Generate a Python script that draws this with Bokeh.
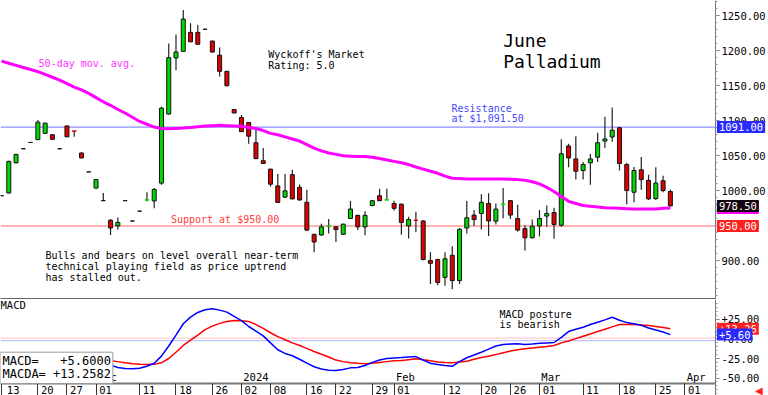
import numpy as np
import pandas as pd
from bokeh.plotting import figure
from bokeh.models import (ColumnDataSource, Range1d, FixedTicker, Label,
                          NumeralTickFormatter, PrintfTickFormatter)
from bokeh.layouts import column
from bokeh.embed import file_html
from bokeh.resources import INLINE

# ---------------- data ----------------
first_day = "2023-11-13"
last_axis_day = "2024-04-01"
holidays = ["2023-11-23", "2023-12-25", "2024-01-01", "2024-01-15", "2024-02-19", "2024-03-29"]

opens = [993, 997, 1040, 1060, 1069, 1073, 1082, 1080, 1060, 1092.6,
         1085.5, 1054, 1027, 1004, 986, 958, 950, 986, 957, 971,
         986.8, 985.6, 1011, 1109.5, 1189.6, 1199, 1226, 1226, 1230.5, 1213.7,
         1193.5, 1170.5, 1116, 1104.6, 1097.5, 1068.6, 1043, 1031, 1007, 991,
         1023, 1005, 983.6, 938, 937, 949.4, 948.6, 938, 960.5, 965,
         948.6, 979, 993, 986.8, 982, 981, 950, 958.2, 957, 900.6,
         902, 876.5, 908, 872, 947, 965.4, 967.7, 982, 956.8, 980.8,
         986, 960.5, 946, 933, 950, 964, 969, 951, 1064, 1045.5,
         1029, 1040, 1048, 1071, 1076.8, 1090, 1037.5, 998, 1030, 1015,
         989, 1014.4, 999]
highs = [993, 1043, 1053, 1060, 1069, 1101, 1097, 1081, 1060, 1093,
         1085.5, 1055, 1027, 1017, 997, 960, 962, 986, 957, 971,
         998, 1004, 1120, 1210, 1223, 1258, 1239, 1236.7, 1230.5, 1214,
         1204.6, 1171, 1116, 1108, 1098, 1089, 1061, 1031, 1024, 1024,
         1030, 1009, 1001.4, 938, 953, 960, 949, 953, 985.6, 966,
         971, 987, 1003, 1003, 986, 982, 963, 970, 958, 912.5,
         903, 912.5, 921, 947, 985.6, 972.6, 995, 996.5, 982, 1004,
         987, 980, 951, 959, 972.6, 979, 976, 1073.5, 1067, 1078,
         1041, 1053, 1083, 1105.6, 1119, 1091, 1040, 1034, 1048.4, 1023,
         1033.6, 1021.6, 1002]
lows = [993, 996, 1039, 1060, 1069, 1073, 1082, 1073, 1060, 1077,
        1077, 1046, 1027, 1003, 986, 937, 945, 986, 957, 971,
        985, 975, 1008.7, 1109, 1172, 1199, 1212, 1209, 1230.5, 1197,
        1163, 1149, 1111, 1084, 1067, 1045, 1039, 1006, 983, 990,
        988, 986, 943, 912.5, 936, 939, 927, 937, 960, 944,
        936.6, 978, 985, 986.8, 972, 937.5, 932, 941, 901, 867,
        865.4, 864.5, 859.7, 867, 939, 950, 945, 935.6, 952, 961,
        960, 942, 915, 932, 935, 948.6, 931.7, 948.6, 1033.6, 1016,
        1016, 1008.6, 1041, 1061, 1070, 1029, 981, 983.6, 1001.4, 987,
        987, 998, 978]
closes = [993, 1042, 1052, 1060, 1069, 1098, 1096.5, 1073.5, 1060, 1077,
          1085, 1047, 1027, 1016, 986, 947, 955, 986, 957, 971,
          987.2, 1002, 1118, 1190, 1198, 1245, 1212.6, 1209, 1230.5, 1198,
          1170.5, 1150, 1111, 1084.4, 1078, 1046, 1039, 1009.5, 983.5, 1000,
          988.5, 987, 944, 927, 948.6, 949.8, 944.7, 952.5, 974, 948.6,
          965, 986, 986, 987.2, 975, 955, 959, 957.8, 902, 896.6,
          869.3, 903, 872, 945, 961.5, 959, 983.6, 957, 974, 981.2,
          965.4, 944, 933, 949.6, 960.5, 967.7, 952, 1053, 1047, 1028,
          1037.5, 1045.5, 1068.6, 1074, 1086.5, 1039, 1000.4, 1029, 1016, 988.5,
          1011, 1000.4, 978.5]
ma50 = [1185, 1182, 1179, 1176, 1173, 1170, 1166, 1162, 1158, 1153,
        1148, 1144, 1139, 1133, 1127, 1122, 1116, 1111, 1105, 1099,
        1095, 1091, 1089, 1088.5, 1089, 1089.5, 1090.5, 1091.5, 1092.5, 1093,
        1093.5, 1093, 1092.5, 1092, 1090.5, 1089, 1086, 1082, 1080, 1077,
        1074, 1071, 1066, 1061, 1057, 1054, 1052, 1050, 1049.5, 1049,
        1049, 1048, 1046, 1044, 1042, 1040, 1037.5, 1034, 1031, 1028,
        1025, 1021, 1018, 1017.5, 1017, 1017, 1017, 1017, 1017, 1017,
        1016.5, 1016, 1015, 1013, 1010, 1005, 999, 992, 985, 982,
        979, 978, 977, 976, 975.5, 975, 974.5, 974, 974, 974,
        974, 975, 975.5]
macd = [-31, -30, -29, -28, -27, -26, -25, -23, -21, -19.8,
        -19, -20, -22, -24, -28.5, -33.5, -36.5, -37.8, -38.2, -37.5,
        -35, -31, -22, -9, 5, 19.5, 28, 34, 37.5, 38.7,
        37, 34.4, 29, 23.5, 16, 10, 4, -5, -13.8, -18.5,
        -21.5, -26, -31, -35.5, -38.5, -40, -40.5, -39, -37, -36.5,
        -34, -30, -27, -25, -24.3, -23.8, -23, -22.5, -27, -31,
        -32.7, -34, -35, -29, -24, -20.5, -17, -13, -9, -7,
        -6.5, -6.2, -7.2, -6.5, -5.5, -5, -4.5, 2, 9.5, 12.5,
        15, 18.5, 21.5, 24.5, 27.9, 24, 21, 19.5, 17.5, 14,
        11.5, 9, 5.6]
macd_avg = [-24, -24.5, -25, -25, -25, -24.5, -24, -23.5, -23, -23,
            -23, -23.5, -24.5, -26, -27, -28, -29, -30.5, -31.8, -32.5,
            -32.8, -32.5, -30.5, -25, -17, -8.3, -1.5, 5, 12, 16.5,
            20, 22.5, 23.7, 23.5, 22.5, 18.5, 13.5, 8, 3, -1,
            -5, -8.3, -12, -16, -19.5, -23, -27, -29, -30.5, -31.2,
            -31.8, -31, -30, -29, -28, -27.6, -26.5, -25.4, -26.5, -28,
            -29.5, -30.2, -30.5, -29.5, -28.5, -26, -23.8, -22, -20, -17.5,
            -15.5, -13.8, -12.5, -11.5, -10.5, -9.5, -8.3, -5, -2.5, 0.5,
            3.5, 6.5, 9.5, 12.5, 15.5, 18.5, 18.7, 18.6, 18, 17.3,
            16, 14.7, 13.26]

tick_dates = ["2023-11-13", "2023-11-20", "2023-11-27", "2023-12-01", "2023-12-11", "2023-12-18",
              "2023-12-26", "2024-01-02", "2024-01-08", "2024-01-16", "2024-01-22", "2024-01-29",
              "2024-02-01", "2024-02-12", "2024-02-20", "2024-02-26", "2024-03-01", "2024-03-11",
              "2024-03-18", "2024-03-25", "2024-04-01"]
month_dates = ["2023-12-01", "2024-01-02", "2024-02-01", "2024-03-01", "2024-04-01"]
month_texts = ["Dec", "2024", "Feb", "Mar", "Apr"]
price_ticks = [900, 950, 1000, 1050, 1100, 1150, 1200, 1250]
macd_ticks = [-50, -25, 0, 25]

resistance = 1091.0
support = 950.0
last_price = 978.50
last_ma = 975.5
macd_last = 5.60
macd_avg_last = 13.2582

# ---------------- calendar ----------------
days = pd.bdate_range(first_day, last_axis_day)
days = days[~days.isin(pd.to_datetime(holidays))]
day_index = {d.strftime("%Y-%m-%d"): i for i, d in enumerate(days)}
x = list(range(len(opens)))

GREEN = "#00d800"
RED = "#e00000"
fills, lines_c = [], []
for o, c in zip(opens, closes):
    if o == c:
        col = "#111111"
    elif c > o:
        col = GREEN
    else:
        col = RED
    fills.append(col)
    lines_c.append("#111111" if abs(c - o) >= 1 or o == c else col)

src = ColumnDataSource(dict(
    x=x, open=opens, high=highs, low=lows, close=closes,
    top=[max(o, c) for o, c in zip(opens, closes)],
    bottom=[min(o, c) for o, c in zip(opens, closes)],
    fill=fills, line=lines_c, ma=ma50, macd=macd, macd_avg=macd_avg))

MONO = "DejaVu Sans Mono"
X0, X1 = -0.14, 105.5          # visible trading-day window (frame spans full width)
AXIS_X = 98.2                   # where the price scale sits
xr = Range1d(X0, X1)

def style_yaxis(ax, ticks, minor, formatter):
    ax.ticker = FixedTicker(ticks=ticks, minor_ticks=minor)
    ax.formatter = formatter
    ax.fixed_location = AXIS_X
    ax.major_label_text_font = MONO
    ax.major_label_text_font_size = "10.5px"
    ax.major_label_text_color = "black"
    ax.axis_line_color = "#777777"
    ax.major_tick_line_color = "#777777"
    ax.minor_tick_line_color = "#999999"
    ax.major_tick_out = 4
    ax.major_tick_in = 0
    ax.minor_tick_out = 2
    ax.minor_tick_in = 0
    ax.major_label_standoff = 2

def lab(fig, xx, yy, text, color="black", size="10px", font=MONO, align="left", baseline="middle"):
    fig.add_layout(Label(x=xx, y=yy, text=text, text_color=color, text_font_size=size,
                         text_font=font, text_align=align, text_baseline=baseline))

def badge(fig, yy, text, bg):
    fig.add_layout(Label(x=AXIS_X + 0.2, y=yy, text=text, text_color="white", text_font_size="10.5px",
                         text_font=MONO, text_align="left", text_baseline="middle",
                         background_fill_color=bg, background_fill_alpha=1.0, padding=2))

# ---------------- price panel ----------------
p = figure(width=768, height=299, x_range=xr, y_range=Range1d(845, 1271.5),
           y_axis_location="right", toolbar_location=None, output_backend="svg",
           min_border_left=0, min_border_right=0, min_border_top=0, min_border_bottom=0)
p.grid.visible = False
p.outline_line_color = None
style_yaxis(p.yaxis[0], price_ticks, list(range(850, 1271, 10)), NumeralTickFormatter(format="0.00"))

xa = p.xaxis[0]
xa.ticker = FixedTicker(ticks=[])
xa.bounds = (X0, AXIS_X)
xa.major_label_text_font_size = "0px"
xa.major_tick_out = 0
xa.major_tick_in = 0
xa.minor_tick_out = 0
xa.minor_tick_in = 0
xa.major_label_standoff = 0
xa.axis_line_color = "#666666"
xa.axis_line_width = 3

p.segment(x0=X0, y0=resistance, x1=AXIS_X, y1=resistance, line_color="#8c8cff", line_width=1.2)
p.segment(x0=X0, y0=support, x1=AXIS_X, y1=support, line_color="#ff9a9a", line_width=1.5)

p.segment(x0="x", y0="low", x1="x", y1="high", source=src, line_color="#222222", line_width=1.2)
p.vbar(x="x", width=0.55, top="top", bottom="bottom", source=src,
       fill_color="fill", line_color="line", line_width=1)
p.line(x="x", y="ma", source=src, line_color="#ff00ff", line_width=3)

lab(p, 5.1, 1181, "50-day mov. avg.", color="#ff33ff")
lab(p, 36.7, 1194, "Wyckoff's Market")
lab(p, 36.7, 1179, "Rating: 5.0")
lab(p, 69.0, 1214, "June", size="18px")
lab(p, 69.0, 1185, "Palladium", size="18px")
lab(p, 61.9, 1117, "Resistance", color="#4646ff")
lab(p, 61.9, 1102.5, "at $1,091.50", color="#4646ff")
lab(p, 23.3, 959.5, "Support at $950.00", color="#ff3c3c")
lab(p, 6.05, 908, "Bulls and bears on level overall near-term")
lab(p, 6.05, 892.4, "technical playing field as price uptrend")
lab(p, 6.05, 877, "has stalled out.")

badge(p, resistance, "1091.00", "#2a2aff")
badge(p, last_ma, "975.50", "#ff00ff")
badge(p, last_price, "978.50", "#140510")
badge(p, support, "950.00", "#ff2020")

# ---------------- MACD panel ----------------
q = figure(width=768, height=96, x_range=xr, y_range=Range1d(-72.4, 50.6),
           y_axis_location="right", toolbar_location=None, output_backend="svg",
           min_border_left=0, min_border_right=0, min_border_top=0, min_border_bottom=0)
q.grid.visible = False
q.outline_line_color = None
style_yaxis(q.yaxis[0], macd_ticks, list(range(-70, 50, 5)), PrintfTickFormatter(format="%+.2f"))

NBSP = "\u00a0"
tick_idx = [day_index[d] for d in tick_dates]
overrides = {}
for i, d in zip(tick_idx, tick_dates):
    pad = 1 if i == 0 else 3      # first label is pushed inside the canvas edge
    overrides[i] = NBSP * pad + pd.Timestamp(d).strftime("%d")
qx = q.xaxis[0]
qx.fixed_location = -57
qx.bounds = (X0, AXIS_X)
qx.ticker = FixedTicker(ticks=tick_idx, minor_ticks=[])
qx.major_label_overrides = overrides
qx.major_label_text_font = MONO
qx.major_label_text_font_size = "10.5px"
qx.major_label_text_color = "black"
qx.major_tick_out = 12
qx.major_tick_in = 0
qx.major_tick_line_color = "#333333"
qx.major_label_standoff = -11
qx.axis_line_color = "#777777"
qx.axis_line_width = 2

q.segment(x0=X0, y0=1.2, x1=AXIS_X, y1=1.2, line_color="#ffbcbc", line_width=1)
q.segment(x0=X0, y0=-2.2, x1=AXIS_X, y1=-2.2, line_color="#b4b4ff", line_width=1)
q.line(x="x", y="macd_avg", source=src, line_color="#ff0000", line_width=1.5)
q.line(x="x", y="macd", source=src, line_color="#0000ff", line_width=1.5)

lab(q, X0, 43, "MACD", size="10.5px")
lab(q, 68.5, 31.4, "MACD posture")
lab(q, 68.5, 18.2, "is bearish")
for d, t in zip(month_dates, month_texts):
    lab(q, day_index[d] + 0.25, -49.3, t, size="10.5px")

q.add_layout(Label(x=X0, y=-57, text="MACD=" + NBSP * 3 + "%+.4f\nMACDA=" % macd_last + NBSP + "%+.4f" % macd_avg_last,
                   text_font=MONO, text_font_size="12px", text_color="black", text_line_height=0.95,
                   text_align="left", text_baseline="bottom",
                   background_fill_color="white", border_line_color="#999999", padding=2))

badge(q, macd_avg_last, "+13.26", "#ff2020")
badge(q, macd_last, "+5.60", "#2a2aff")
q.add_layout(Label(x=103.6, y=-66, text="\u25c0", text_color="#ff2020",
                   text_font_size="10px", text_align="left", text_baseline="middle"))

layout = column(p, q)
open("out.html", "w").write(file_html(layout, INLINE))
